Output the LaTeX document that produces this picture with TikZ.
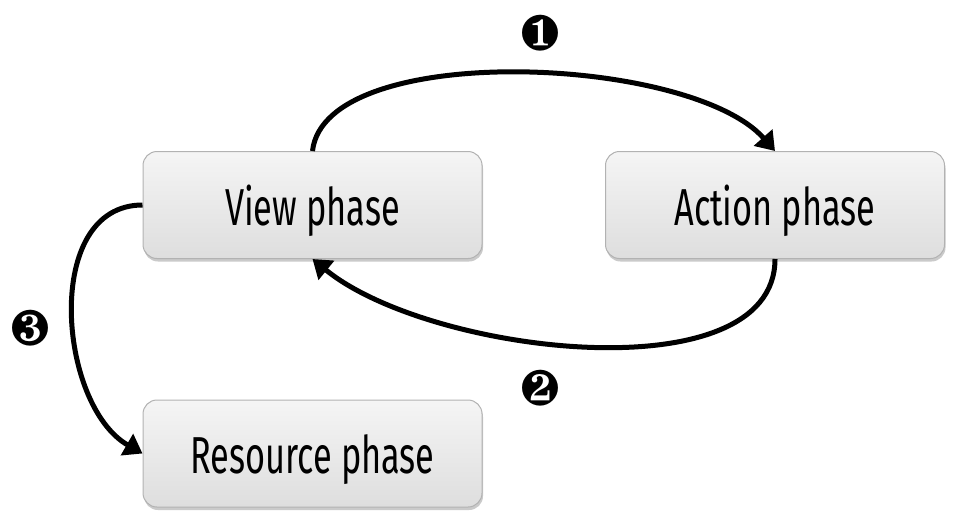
\documentclass[tikz,border=0pt]{standalone}
\usepackage{fontspec}
\setmainfont{Fira Sans}[FakeStretch=0.66]
\usepackage{pifont}
\usetikzlibrary{arrows.meta,shadows}

\begin{document}
\begin{tikzpicture}[x=0.5pt,y=-0.5pt]
\tikzstyle{phase}=[draw=black!30, line width=0.5pt, rounded corners=7pt,
  top color=black!4, bottom color=black!13,
  minimum width=169.5pt, minimum height=53.5pt, inner sep=0pt,
  text height=20pt, text depth=0pt,
  drop shadow={shadow xshift=0.5pt, shadow yshift=-1.5pt, opacity=0.35, fill=black!60},
  font=\fontsize{26}{30}\selectfont]
\tikzstyle{flow}=[line width=2.5pt, black, -{Triangle[length=9pt,width=12pt]}]
\tikzstyle{stepnum}=[font=\fontsize{25}{30}\selectfont]
\useasboundingbox (0,0) rectangle (953,520);
% phases
\node [phase] (view) at (312.5,205) {View phase};
\node [phase] (action) at (775,205) {Action phase};
\node [phase] (resource) at (312.5,453.5) {Resource phase};
% loop between view and action
\draw [flow] (view.north) .. controls (325,40) and (690,55) .. (action.north);
\draw [flow] (action.south) .. controls (775,395) and (430,355) .. (view.south);
\draw [flow] (view.west) .. controls (42,205) and (58,405) .. (resource.west);
% numbers
\node [stepnum] (one) at (540,33) {\ding{182}};
\node [stepnum] (two) at (540,388) {\ding{183}};
\node [stepnum] (three) at (30,328) {\ding{184}};
\end{tikzpicture}
\end{document}
